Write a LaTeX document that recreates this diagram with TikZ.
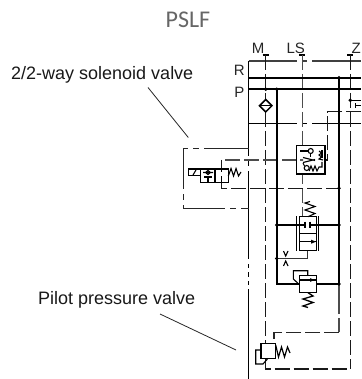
\documentclass[tikz,border=0pt]{standalone}
\usepackage{fontspec}
\setmainfont{Liberation Sans}
\newfontfamily\titlefont{Carlito}
\begin{document}
\begin{tikzpicture}[x=1pt,y=-1pt,
  thick line/.style={line width=1.7pt,black},
  thin line/.style={line width=1.1pt,black},
  long dash/.style={line width=1.1pt,black!85,dash pattern=on 45pt off 5pt on 6pt off 5pt},
  pipe dash/.style={line width=1.15pt,black!90,dash pattern=on 15pt off 4pt},
  valve box/.style={line width=1.5pt,black,fill=white},
  joint/.style={circle,fill=black,inner sep=0pt,minimum size=3.8pt},
  lab/.style={font=\fontsize{15}{15}\selectfont,text=black!85,inner sep=0pt},
  callout/.style={font=\fontsize{18}{18}\selectfont,text=black!90,inner sep=0pt,anchor=base west},
  leader/.style={line width=0.8pt,black!85}]
\useasboundingbox (0,0) rectangle (361,379);
\fill[white] (0,0) rectangle (361,379);
\node[font=\titlefont\fontsize{24}{24}\selectfont,text=black!60,inner sep=0pt] (title) at (188,20) {PSLF};
\node[callout] (solenoid label) at (11,80) {2/2-way solenoid valve};
\node[callout] (pilot label) at (38,304) {Pilot pressure valve};
\coordinate (solenoid tip) at (188.3,137.5);
\coordinate (solenoid start) at (148,87.5);
\coordinate (pilot start) at (160,314);
\coordinate (pilot tip) at (236,350);
\draw[leader] (solenoid start) -- (solenoid tip);
\draw[leader] (pilot start) -- (pilot tip);
\node[lab] (M) at (258,48.5) {M};
\node[lab] (LS) at (295.7,48.5) {LS};
\node[lab,anchor=east] (Z) at (361,48.5) {Z};
\node[lab] (R) at (239.3,70) {R};
\node[lab] (P) at (239.3,92.3) {P};
\begin{scope}
\clip (0,0) rectangle (361,379);
% ticks
\draw[thin line] (262.7,55) -- (268.7,55) (299,55) -- (305,55) (347.3,55) -- (353.3,55);
% frame
\draw[line width=1.2pt,black!75] (249,61) -- (297,61) (302,61) -- (307,61) (312,61) -- (361,61);
\draw[line width=1.2pt,black] (249,123.3) -- (297,123.3) (302,123.3) -- (307,123.3) (312,123.3) -- (361,123.3);
\draw[line width=1.2pt,black] (248.5,61) -- (248.5,156) (248.5,161) -- (248.5,166) (248.5,171) -- (248.5,259) (248.5,264) -- (248.5,268) (248.5,272) -- (248.5,277) (248.5,281) -- (248.5,285) (248.5,289) -- (248.5,379);
\draw[long dash] (248.5,148.4) -- (183.3,148.4) -- (183.3,208.4) -- (248.5,208.4);
% pipes
\draw[pipe dash] (265.7,55) -- (265.7,369) -- (350.3,369);
\draw[pipe dash] (350.3,55) -- (350.3,369);
\draw[pipe dash,black!70] (302.3,55) -- (302.3,216);
\draw[pipe dash] (361,111.7) -- (327.4,111.7) -- (327.4,160) -- (322,160);
\draw[pipe dash,black!70] (296.7,160) -- (221.7,160);
\draw[pipe dash] (221.7,160) -- (221.7,188.3) -- (339,188.3);
\draw[pipe dash,black!70,dash pattern=on 30pt off 4pt] (339,284) -- (339,332.3);
\draw[pipe dash,black!85] (339,332.3) -- (274,332.3) -- (274,343.3);
% solid lines
\draw[thick line] (249,77.7) -- (361,77.7);
\draw[thick line] (249,89.3) -- (361,89.3);
\draw[thick line] (276.7,89.3) -- (276.7,284) -- (299,284);
\draw[line width=1.9pt] (339,77.7) -- (339,284) -- (316.7,284);
\draw[line width=1.8pt] (276.7,225) -- (305,225) (310,225) -- (339,225);
\draw[line width=1.3pt,black!80] (276.7,258.5) -- (307.7,258.5) -- (307.7,250.7);
\draw[thin line] (350.3,100.3) -- (361,100.3) (355.8,103.3) -- (355.8,108.3) (355.8,105.8) -- (361,105.8);
% filter
\draw[valve box] (265.7,99.5) -- (271.9,105.7) -- (265.7,111.9) -- (259.5,105.7) -- cycle;
\draw[thin line] (259.5,105.7) -- (271.9,105.7);
% check valve block
\draw[thin line,fill=white] (296.7,145.7) rectangle (325,174);
\draw[thin line] (300,151) -- (308.2,151) (310.7,153.5) -- (310.7,157);
\draw[thin line] (310.7,151) circle (2.5);
\draw[thin line] (303,157.5) -- (315,160.5) (303,162.5) -- (315,159.5) (300,160) -- (303,160);
\draw[thin line] (306.7,168) circle (2.5);
\draw[thin line] (303,163) -- (304.5,166) (309.2,171) -- (311,166) -- (313,171) -- (315,166) -- (317,171) -- (319,167) -- (322,167) -- (322,162);
\draw[thin line] (319,151) -- (321.5,153) -- (319,155) -- (321.5,157) -- (319,159) -- (323,160);
\draw[thin line] (322,150) -- (322,158);
% solenoid valve
\draw[valve box] (188.3,169) rectangle (200.7,175.7);
\draw[thin line] (193,175) -- (196,170);
\draw[valve box] (200.7,169) rectangle (215,182.7);
\draw[valve box] (215,169) rectangle (228.3,182.7);
\draw[thin line] (203,172.5) -- (213,172.5) (205.5,172.5) -- (208,170.5) -- (210.5,172.5) -- (208,174.5) -- cycle;
\draw[thin line] (204,177) -- (212,177) (208,177) -- (208,182.7);
\draw[thin line] (221.7,169) -- (221.7,172) (221.7,176) -- (221.7,182.7);
\draw[thin line] (228.3,176) -- (231,168.5) -- (233.5,176) -- (236,168.5) -- (238.5,176) -- (241,172);
% spool valve
\draw[thin line] (296.7,216) -- (296.7,251) (318.8,216) -- (318.8,251);
\draw[valve box] (299.3,216.7) rectangle (316.7,250.7);
\draw[valve box] (299.3,233.3) -- (316.7,233.3);
\draw[line width=1.8pt] (299.3,225) -- (305,225) (310,225) -- (316.7,225);
\draw[thin line] (305,221.7) -- (305,228.3) (310,221.7) -- (310,228.3);
\draw[thin line] (299.3,241.7) -- (316.7,241.7);
\fill (316,241.7) -- (311,239.7) -- (311,243.7) -- cycle;
\draw[thin line] (308,216.7) -- (315,213.5) -- (305,210) -- (315,206.5) -- (305,203) -- (310,201.5);
% throttles
\draw[thin line] (283.5,251) -- (285.7,256) -- (288,251);
\draw[thin line] (283.5,266) -- (285.7,261) -- (288,266);
% relief valve
\draw[valve box] (299.3,275.7) rectangle (316.7,292.7);
\draw[thin line] (299.3,280) -- (316.7,280);
\fill (315,280) -- (310,278.2) -- (310,281.8) -- cycle;
\draw[thin line] (307.7,275.7) -- (307.7,270.7) -- (293.3,270.7) -- (293.3,279) -- (299.3,284.5);
\draw[line width=1.3pt] (308,292.7) -- (313,296) -- (303,299) -- (313,302.5) -- (303,306) -- (308,307.5);
% pilot valve
\draw[valve box] (261,343.3) rectangle (275.7,358.3);
\draw[thin line] (261,350) -- (255.7,350) -- (255.7,364) -- (263,364) -- (268,358.3);
\draw[line width=1.2pt] (275.7,345) -- (278.5,357) -- (281.5,347) -- (284.5,357) -- (287.5,347) -- (290,353);
% joints
\foreach \j/\x/\y in {a/265.7/89.3,b/276.7/89.3,c/339/77.7,d/350.3/100.3,e/339/188.3,f/276.7/225,g/339/225,h/276.7/258.5,i/339/284}
  \node[joint] (joint \j) at (\x,\y) {};
\end{scope}
\end{tikzpicture}
\end{document}
